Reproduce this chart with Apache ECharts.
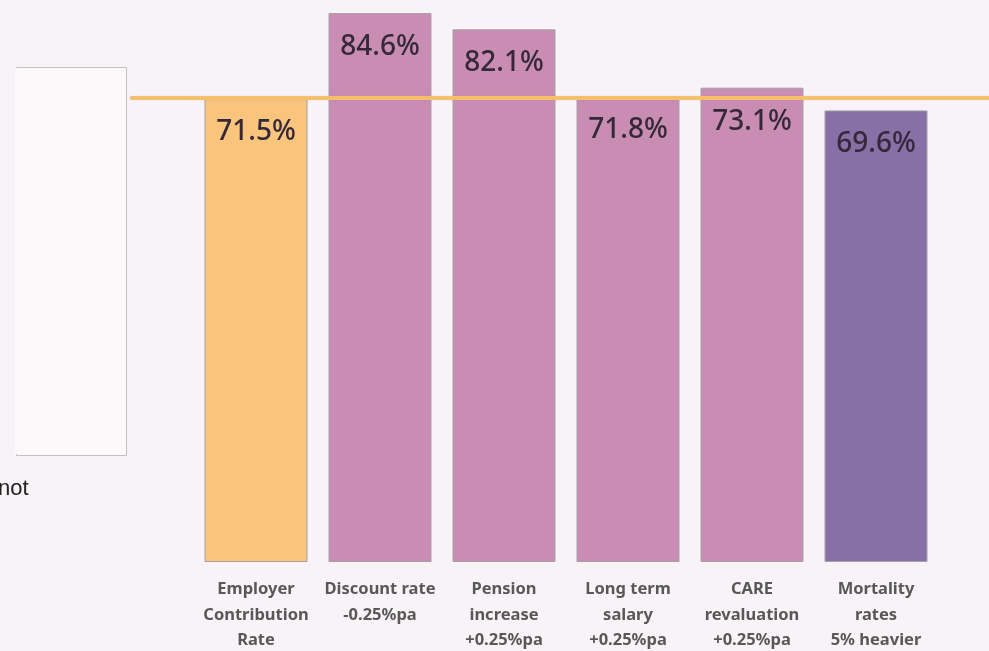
<!DOCTYPE html>
<html>
<head>
<meta charset="utf-8">
<script src="https://cdn.jsdelivr.net/npm/echarts@6/dist/echarts.min.js"></script>
<style>
  html, body { margin: 0; padding: 0; background: #f7f3f7; }
  #chart { width: 989px; height: 651px; }
</style>
</head>
<body>
<div id="chart"></div>
<script>
// categories and values
const categories = [
  'Employer\nContribution\nRate',
  'Discount rate\n-0.25%pa',
  'Pension\nincrease\n+0.25%pa',
  'Long term\nsalary\n+0.25%pa',
  'CARE\nrevaluation\n+0.25%pa',
  'Mortality\nrates\n5% heavier'
]
const values = [71.5, 84.6, 82.1, 71.8, 73.1, 69.6]
const barColors = ['#f9c47c', '#c98db4', '#c98db4', '#c98db4', '#c98db4', '#8770a6']
// base line sits at the employer rate
const baseLevel = 71.5
const baseLine = [[0, baseLevel], [1, baseLevel]]

const myChart = echarts.init(document.getElementById('chart'))

const option = {
  backgroundColor: '#f7f3f7',
  animation: false,
  graphic: [
    {
      type: 'rect',
      left: 16, top: 67,
      shape: { width: 110, height: 388 },
      style: { fill: '#fcf9fb', stroke: '#c4c0c4', lineWidth: 1 },
      z: 0
    },
    {
      type: 'rect',
      left: 15, top: 68,
      shape: { width: 2, height: 386 },
      style: { fill: '#fcf9fb' },
      z: 1
    },
    {
      type: 'text',
      left: -2, top: 478,
      style: { text: 'not', fontFamily: 'Liberation Sans', fontSize: 22, fill: '#222' }
    }
  ],
  grid: [
    { left: 194, width: 744, top: 4, bottom: 89, outerBoundsMode: 'none' },
    { left: 132, right: -20, top: 4, bottom: 89, outerBoundsMode: 'none' }
  ],
  xAxis: [
    {
      type: 'category',
      gridIndex: 0,
      data: categories,
      axisLine: { show: false },
      axisTick: { show: false },
      axisLabel: {
        interval: 0,
        margin: 15,
        color: '#585858',
        fontFamily: 'Noto Sans',
        fontWeight: 'bold',
        fontSize: 16.5,
        lineHeight: 25.5
      }
    },
    { type: 'value', gridIndex: 1, min: 0, max: 1, show: false }
  ],
  yAxis: [
    { type: 'value', gridIndex: 0, min: 0, max: 86, show: false },
    { type: 'value', gridIndex: 1, min: 0, max: 86, show: false }
  ],
  series: [
    {
      type: 'bar',
      xAxisIndex: 0,
      yAxisIndex: 0,
      barWidth: 103,
      data: values.map((v, i) => ({
        value: v,
        itemStyle: { color: barColors[i], borderColor: '#a8a0a8', borderWidth: 1 }
      })),
      label: {
        show: true,
        position: 'insideTop',
        distance: 20,
        formatter: (p) => p.value.toFixed(1) + '%',
        color: '#35283a',
        fontFamily: 'Noto Sans',
        fontWeight: 500,
        fontSize: 28
      },
      z: 2
    },
    {
      type: 'line',
      xAxisIndex: 1,
      yAxisIndex: 1,
      data: baseLine,
      symbol: 'none',
      lineStyle: { color: '#f5bf6c', width: 4, cap: 'round', shadowColor: 'rgba(120,90,60,0.35)', shadowBlur: 1 },
      z: 5
    }
  ]
}

myChart.setOption(option)
</script>
</body>
</html>
